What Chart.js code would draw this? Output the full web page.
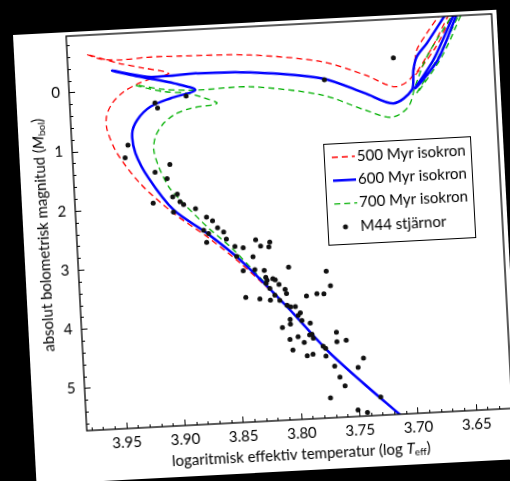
<!DOCTYPE html>
<html>
<head>
<meta charset="utf-8">
<script src="https://cdn.jsdelivr.net/npm/chart.js@4.4.1/dist/chart.umd.min.js"></script>
<style>
  html, body { margin: 0; padding: 0; background: #000; width: 510px; height: 481px; overflow: hidden; }
  #panel {
    position: absolute; left: 12.7px; top: 35px; width: 484px; height: 450px;
    background: #fff; transform-origin: 0 0; transform: rotate(-3deg);
  }
</style>
</head>
<body>
<div id="panel"><canvas id="hr" width="484" height="450"></canvas></div>
<script>
// HR diagram of M44 with isochrones (log Teff vs M_bol)
const X_TICKS = [3.95, 3.90, 3.85, 3.80, 3.75, 3.70, 3.65];
const Y_TICKS = [0, 1, 2, 3, 4, 5];
const LABELS = ["500 Myr isokron", "600 Myr isokron", "700 Myr isokron", "M44 stjärnor"];

// [log Teff, M_bol]
const ISO_500 = [
  [3.7033, 5.95], [3.7166, 5.70], [3.7451, 5.165], [3.7749, 4.571], [3.8071, 3.805],
  [3.845, 3.03], [3.8724, 2.553], [3.8999, 2.129], [3.9271, 1.60], [3.9456, 1.067],
  [3.9531, 0.665], [3.9531, 0.44], [3.9476, 0.219], [3.9372, 0.034], [3.924, -0.095],
  [3.9123, -0.167], [3.8979, -0.237], [3.9192, -0.349], [3.9402, -0.45], [3.9673, -0.63],
  [3.9556, -0.538], [3.938, -0.505], [3.9156, -0.526], [3.8871, -0.518], [3.8272, -0.473],
  [3.7663, -0.297], [3.7299, -0.034], [3.7048, 0.19], [3.69, 0.036], [3.6846, -0.41],
  [3.6753, -0.683], [3.664, -0.97], [3.6537, -1.2], [3.6494, -1.2], [3.656, -0.97],
  [3.671, -0.45], [3.687, 0.01], [3.668, -0.45], [3.653, -0.97], [3.6464, -1.2]
];
const ISO_600 = [
  [3.7033, 5.95], [3.7166, 5.70], [3.7451, 5.165], [3.7749, 4.571], [3.8071, 3.805],
  [3.845, 2.976], [3.8722, 2.496], [3.8997, 2.074], [3.9196, 1.52], [3.9299, 1.083],
  [3.9318, 0.743], [3.927, 0.523], [3.915, 0.31], [3.8975, 0.186], [3.8758, 0.069],
  [3.894, -0.064], [3.911, -0.149], [3.9307, -0.242], [3.9461, -0.331], [3.9165, -0.199],
  [3.8994, -0.193], [3.8736, -0.212], [3.828, -0.181], [3.767, -0.017], [3.7307, 0.274],
  [3.707, 0.468], [3.6906, 0.26], [3.6884, -0.076], [3.6849, -0.298], [3.6757, -0.515],
  [3.659, -0.97], [3.6506, -1.2], [3.6455, -1.2], [3.6515, -0.97], [3.6708, -0.227],
  [3.6877, 0.234], [3.667, -0.227], [3.649, -0.97], [3.6434, -1.2]
];
const ISO_700 = [
  [3.7033, 5.95], [3.7166, 5.70], [3.7451, 5.165], [3.7749, 4.571], [3.8071, 3.805],
  [3.8502, 2.801], [3.8719, 2.385], [3.8936, 1.911], [3.903, 1.676], [3.9106, 1.33],
  [3.9141, 1.044], [3.9121, 0.821], [3.9058, 0.63], [3.8955, 0.471], [3.8809, 0.373],
  [3.8579, 0.312], [3.8718, 0.186], [3.8831, 0.117], [3.903, 0.069], [3.917, -0.003],
  [3.9269, -0.069], [3.9029, 0.03], [3.8744, 0.07], [3.8287, 0.062], [3.7678, 0.265],
  [3.7315, 0.556], [3.709, 0.703], [3.6943, 0.539], [3.6877, 0.207], [3.6763, -0.289],
  [3.6525, -0.97], [3.6445, -1.2], [3.6406, -1.2], [3.647, -0.97], [3.666, -0.29],
  [3.6865, 0.32], [3.663, -0.29], [3.645, -0.97], [3.6389, -1.2]
];
const STARS = [
  [3.911, 0.25], [3.909, 0.34], [3.884, 0.16], [3.936, 0.94], [3.939, 1.15], [3.901, 1.30],
  [3.914, 1.42], [3.904, 1.54], [3.896, 1.81], [3.900, 1.85], [3.917, 1.94], [3.894, 1.94],
  [3.891, 1.99], [3.881, 2.07], [3.705, -0.30], [3.765, 0.01], [3.900, 2.11], [3.872, 2.22],
  [3.867, 2.29], [3.863, 2.41], [3.875, 2.44], [3.858, 2.49], [3.871, 2.50], [3.856, 2.61],
  [3.873, 2.65], [3.849, 2.74], [3.842, 2.77], [3.831, 2.65], [3.819, 2.70], [3.827, 2.76],
  [3.820, 2.78], [3.834, 2.93], [3.848, 2.91], [3.833, 3.15], [3.825, 3.17], [3.804, 3.14],
  [3.843, 3.16], [3.824, 3.29], [3.818, 3.32], [3.816, 3.34], [3.823, 3.34], [3.824, 3.39],
  [3.813, 3.42], [3.821, 3.48], [3.808, 3.51], [3.817, 3.60], [3.842, 3.61], [3.830, 3.65],
  [3.821, 3.68], [3.813, 3.69], [3.807, 3.78], [3.807, 3.58], [3.772, 3.24], [3.769, 3.49],
  [3.781, 3.61], [3.775, 3.62], [3.790, 3.64], [3.804, 3.81], [3.800, 3.81], [3.796, 3.92],
  [3.798, 3.96], [3.805, 4.02], [3.795, 4.05], [3.788, 4.10], [3.812, 4.15], [3.805, 4.10],
  [3.787, 4.29], [3.789, 4.30], [3.786, 4.36], [3.799, 4.32], [3.806, 4.36], [3.794, 4.42],
  [3.804, 4.54], [3.792, 4.65], [3.787, 4.63], [3.778, 4.50], [3.776, 4.54], [3.766, 4.28],
  [3.766, 4.44], [3.758, 4.42], [3.776, 4.67], [3.744, 4.74], [3.749, 4.89], [3.769, 4.85],
  [3.765, 5.04], [3.761, 5.19], [3.774, 5.38], [3.731, 5.41], [3.751, 5.61], [3.743, 5.66]
];

const FONT = "Lato, 'Open Sans', sans-serif";
const toXY = arr => arr.map(p => ({ x: p[0], y: p[1] }));

function isoSet(label, pts, color, width, dash, order) {
  return {
    label: label, data: toXY(pts), showLine: true, pointRadius: 0, pointHoverRadius: 0,
    borderColor: color, borderWidth: width, borderDash: dash, tension: 0.3,
    clip: 0, order: order
  };
}

// minor tick values between the labelled ones
function minorValues(majors, min, max) {
  const s = Math.abs(majors[1] - majors[0]) / 5;
  let v = Math.min(...majors);
  while (v - s >= min - 1e-9) v -= s;
  const out = [];
  for (; v <= max + 1e-9; v += s) out.push(v);
  return out;
}

function fontFor(style) {
  if (style === "i") return "italic 15px " + FONT;
  if (style === "sub") return "10px " + FONT;
  return "15px " + FONT;
}

function drawRich(ctx, parts, x, y) {
  let w = 0;
  parts.forEach(p => { ctx.font = fontFor(p[1]); w += ctx.measureText(p[0]).width; });
  let cx = x - w / 2;
  parts.forEach(p => {
    ctx.font = fontFor(p[1]);
    ctx.fillText(p[0], cx, y + (p[1] === "sub" ? 4 : 0));
    cx += ctx.measureText(p[0]).width;
  });
}

// keep the plot box where the picture has it
function noPad(s) {
  s.paddingLeft = 0; s.paddingRight = 0; s.paddingTop = 0; s.paddingBottom = 0;
}

const frameAndTitles = {
  id: "frameAndTitles",
  afterDraw(chart) {
    const { ctx, chartArea: a, scales: { x, y } } = chart;
    ctx.save();
    ctx.strokeStyle = "#000";
    ctx.fillStyle = "#000";

    // inward ticks
    ctx.lineWidth = 1;
    ctx.beginPath();
    minorValues(Y_TICKS, y.min, y.max).forEach(v => {
      const major = Y_TICKS.some(t => Math.abs(t - v) < 1e-6);
      const py = Math.round(y.getPixelForValue(v)) + 0.5;
      ctx.moveTo(a.left, py); ctx.lineTo(a.left + (major ? 6 : 3), py);
    });
    minorValues(X_TICKS, x.min, x.max).forEach(v => {
      const major = X_TICKS.some(t => Math.abs(t - v) < 1e-6);
      const px = Math.round(x.getPixelForValue(v)) + 0.5;
      ctx.moveTo(px, a.bottom); ctx.lineTo(px, a.bottom - (major ? 6 : 3));
    });
    ctx.stroke();

    // frame
    ctx.lineWidth = 1.3;
    ctx.strokeRect(a.left, a.top, a.right - a.left, a.bottom - a.top);

    // axis titles
    ctx.textBaseline = "middle";
    ctx.textAlign = "left";
    drawRich(ctx, [["logaritmisk effektiv temperatur (log ", ""], ["T", "i"], ["eff", "sub"], [")", ""]],
      (a.left + a.right) / 2, 434);
    ctx.save();
    ctx.translate(20, (a.top + a.bottom) / 2);
    ctx.rotate(-Math.PI / 2);
    drawRich(ctx, [["absolut bolometrisk magnitud (", ""], ["M", "i"], ["bol", "sub"], [")", ""]], 0, 0);
    ctx.restore();

    // legend box
    const bx = a.left + 251, by = a.top + 121, bw = 147, bh = 101;
    ctx.fillStyle = "#fff";
    ctx.fillRect(bx, by, bw, bh);
    ctx.lineWidth = 1;
    ctx.strokeRect(bx + 0.5, by + 0.5, bw, bh);
    ctx.font = "15px " + FONT;
    chart.data.datasets.forEach((ds, i) => {
      const ry = by + 14 + i * 23.3;
      if (ds.showLine) {
        ctx.strokeStyle = ds.borderColor;
        ctx.lineWidth = ds.borderWidth;
        ctx.setLineDash(ds.borderDash || []);
        ctx.beginPath();
        ctx.moveTo(bx + 8, ry); ctx.lineTo(bx + 31, ry);
        ctx.stroke();
        ctx.setLineDash([]);
      } else {
        ctx.fillStyle = ds.backgroundColor;
        ctx.beginPath();
        ctx.arc(bx + 18, ry, ds.pointRadius, 0, Math.PI * 2);
        ctx.fill();
      }
      ctx.fillStyle = "#000";
      ctx.fillText(ds.label, bx + 33, ry);
    });
    ctx.restore();
  }
};

Chart.defaults.font.family = FONT;
Chart.defaults.font.size = 15;
Chart.defaults.color = "#000";

new Chart(document.getElementById("hr"), {
  type: "scatter",
  data: {
    datasets: [
      isoSet(LABELS[0], ISO_500, "#ff0000", 1.3, [6, 4], 3),
      isoSet(LABELS[1], ISO_600, "#0000ff", 2.5, [], 1),
      isoSet(LABELS[2], ISO_700, "#00b000", 1.3, [6, 4], 2),
      {
        label: LABELS[3], data: toXY(STARS), pointRadius: 2.5, pointHoverRadius: 2.5,
        backgroundColor: "#111", borderWidth: 0, showLine: false, order: 0
      }
    ]
  },
  options: {
    responsive: false,
    animation: false,
    devicePixelRatio: 1,
    layout: { padding: { top: 4, right: 5, left: 0, bottom: 0 } },
    plugins: { legend: { display: false }, tooltip: { enabled: false } },
    scales: {
      x: {
        type: "linear", reverse: true, min: 3.619, max: 3.984,
        afterBuildTicks: s => { s.ticks = X_TICKS.map(v => ({ value: v })); },
        afterFit: s => { s.height = 51; noPad(s); },
        grid: { display: false, drawTicks: false },
        border: { display: false },
        ticks: { padding: 5, maxRotation: 0, minRotation: 0, autoSkip: false, callback: v => v.toFixed(2) }
      },
      y: {
        type: "linear", reverse: true, min: -0.953, max: 5.718,
        afterBuildTicks: s => { s.ticks = Y_TICKS.map(v => ({ value: v })); },
        afterFit: s => { s.width = 53; noPad(s); },
        grid: { display: false, drawTicks: false },
        border: { display: false },
        ticks: { padding: 9, autoSkip: false, callback: v => String(v) }
      }
    }
  },
  plugins: [frameAndTitles]
});
</script>
</body>
</html>
